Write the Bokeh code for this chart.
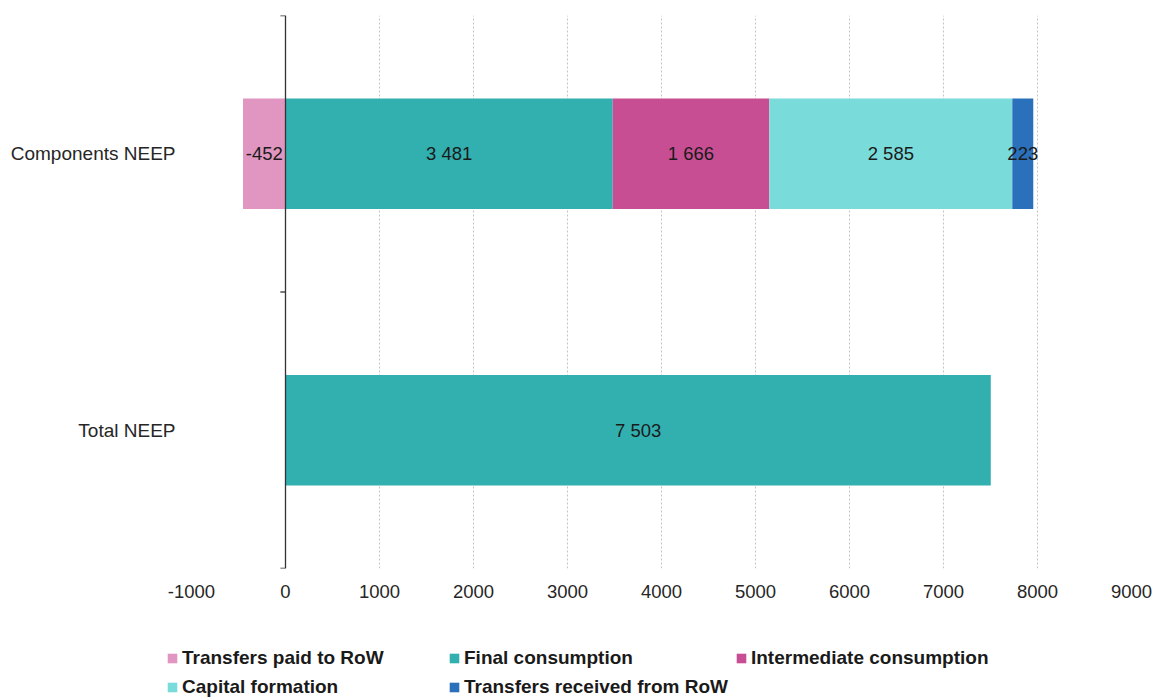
from bokeh.plotting import figure
from bokeh.layouts import column
from bokeh.models import Range1d, FixedTicker, Span, Legend, LegendItem, ColumnDataSource
from bokeh.core.properties import value
from bokeh.embed import file_html
from bokeh.resources import INLINE

# ---- data ----
categories = ["Total NEEP", "Components NEEP"]          # bottom -> top
series = ["Transfers paid to RoW", "Final consumption", "Intermediate consumption",
          "Capital formation", "Transfers received from RoW"]
transfers_paid = [0, -452]
final_consumption = [7503, 3481]
intermediate_consumption = [0, 1666]
capital_formation = [0, 2585]
transfers_received = [0, 223]
x_ticks = [-1000, 0, 1000, 2000, 3000, 4000, 5000, 6000, 7000, 8000, 9000]

colors = ["#E096C0", "#32B0B0", "#C84E94", "#7ADCDA", "#2A70BA"]
values = [transfers_paid, final_consumption, intermediate_consumption,
          capital_formation, transfers_received]

FONT = "Liberation Sans, Arial, sans-serif"

p = figure(width=1156, height=640, output_backend="svg", toolbar_location=None,
           x_range=Range1d(x_ticks[0], x_ticks[-1]), y_range=Range1d(0, len(categories)),
           min_border_left=191, min_border_right=25, min_border_top=15, min_border_bottom=72)
p.frame_align = False
p.outline_line_color = None
p.background_fill_color = "white"
p.border_fill_color = "white"

# grid
p.xgrid.ticker = FixedTicker(ticks=x_ticks)
p.xgrid.grid_line_color = "#c4c4c4"
p.xgrid.grid_line_dash = "2 2"
p.xgrid.grid_line_width = 1
p.ygrid.grid_line_color = None

# x axis
p.xaxis.ticker = FixedTicker(ticks=x_ticks)
p.xaxis.major_label_overrides = {t: str(t) for t in x_ticks}
p.xaxis.axis_line_color = None
p.xaxis.major_tick_line_color = None
p.xaxis.minor_tick_line_color = None
p.xaxis.major_label_text_font = FONT
p.xaxis.major_label_text_font_size = "18.5px"
p.xaxis.major_label_text_color = "#262626"
p.xaxis.major_label_standoff = 10

# y axis (category labels)
ypos = [i + 0.5 for i in range(len(categories))]
p.yaxis.ticker = FixedTicker(ticks=ypos)
p.yaxis.major_label_overrides = {y: c for y, c in zip(ypos, categories)}
p.yaxis.axis_line_color = None
p.yaxis.major_tick_line_color = None
p.yaxis.minor_tick_line_color = None
p.yaxis.major_label_text_font = FONT
p.yaxis.major_label_text_font_size = "19px"
p.yaxis.major_label_text_color = "#262626"
p.yaxis.major_label_standoff = 10

# bars: negatives stack left from 0, positives stack right from 0
pos_acc = [0.0] * len(categories)
neg_acc = [0.0] * len(categories)
lab_x, lab_y, lab_t = [], [], []
for name, vals, col in zip(series, values, colors):
    left, right = [], []
    for i, v in enumerate(vals):
        if v >= 0:
            l, r = pos_acc[i], pos_acc[i] + v
            pos_acc[i] = r
        else:
            l, r = neg_acc[i] + v, neg_acc[i]
            neg_acc[i] = l
        left.append(l)
        right.append(r)
        if v != 0:
            lab_x.append((l + r) / 2)
            lab_y.append(ypos[i])
            lab_t.append(f"{v:,}".replace(",", " "))
    src = ColumnDataSource(dict(y=ypos, left=left, right=right))
    p.hbar(y="y", left="left", right="right", height=0.4, source=src,
           fill_color=col, line_color=None)

# zero axis line with boundary ticks
p.add_layout(Span(location=0, dimension="height", line_color="#333333", line_width=1.3))
bounds = list(range(len(categories) + 1))
p.segment(x0=[-55] * len(bounds), x1=[0] * len(bounds), y0=bounds, y1=bounds,
          line_color="#333333", line_width=1.3)

# data labels
p.text(x=lab_x, y=lab_y, text=lab_t, text_align="center", text_baseline="middle",
       text_font=value(FONT), text_font_size="18.5px", text_color="#1a1a1a")

# legend in its own strip below
lf = figure(width=1156, height=59, output_backend="svg", toolbar_location=None,
            x_range=Range1d(0, 1), y_range=Range1d(0, 1),
            x_axis_location=None, y_axis_location=None,
            min_border=0, min_border_left=0, min_border_right=0,
            min_border_top=0, min_border_bottom=0)
lf.frame_align = False
lf.grid.visible = False
lf.outline_line_color = None
lf.background_fill_color = "white"
lf.border_fill_color = "white"
items = []
for s, col in zip(series, colors):
    # proxy renderer (outside the visible range) that only provides the legend swatch
    r = lf.hbar(y=[-5], left=[0], right=[1], height=0.4, fill_color=col, line_color=None)
    items.append(LegendItem(label=s, renderers=[r]))

legend = Legend(items=items, location=(166, 1), orientation="horizontal", ncols=3,
                glyph_width=12, glyph_height=12, label_standoff=4, label_width=259,
                label_height=22, spacing=7, padding=0, margin=0,
                label_text_font=FONT, label_text_font_size="19px", label_text_font_style="bold",
                label_text_color="#1a1a1a", border_line_color=None, background_fill_alpha=0)
lf.add_layout(legend, "center")

layout = column(p, lf, spacing=0)
open("out.html", "w").write(file_html(layout, INLINE))
